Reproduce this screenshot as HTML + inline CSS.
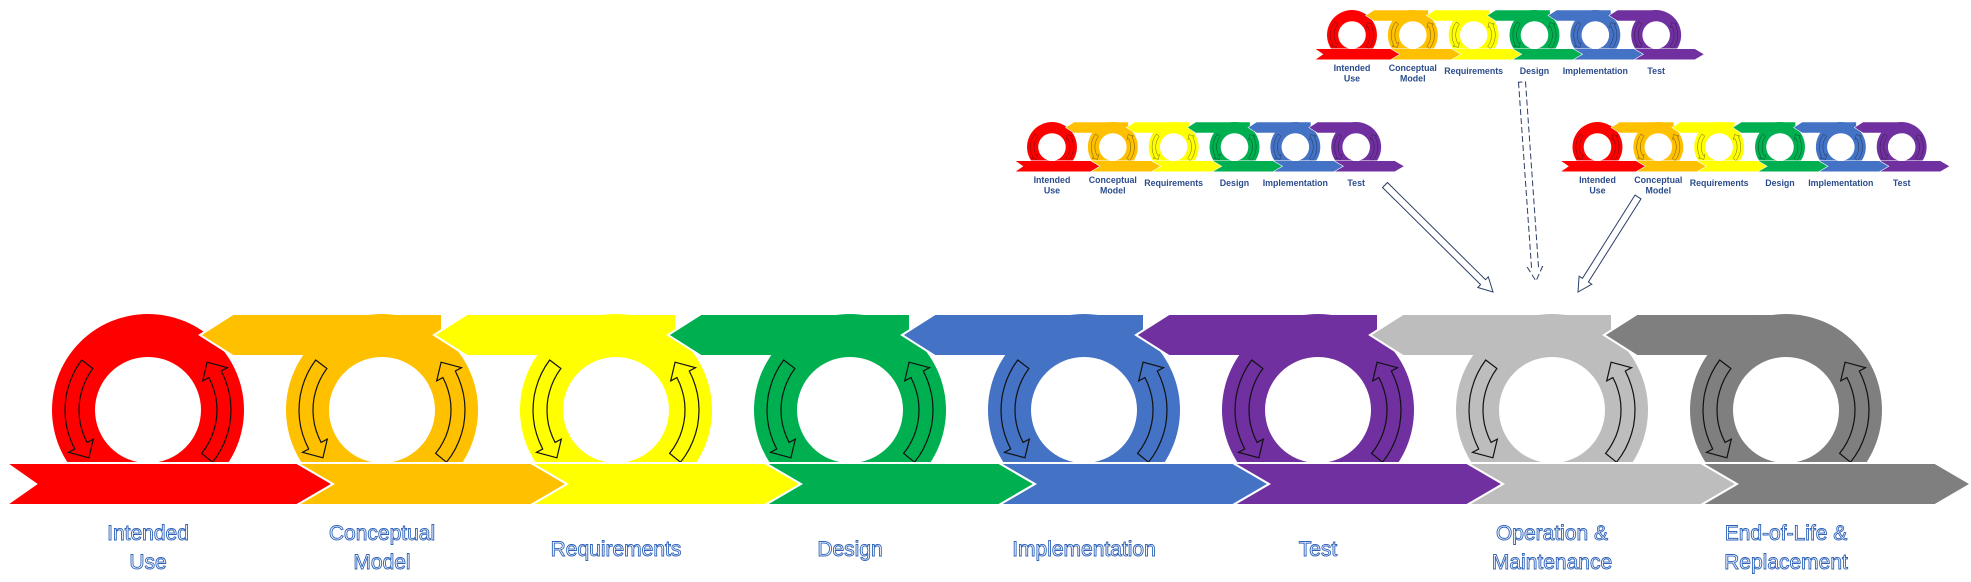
<!DOCTYPE html>
<html><head><meta charset="utf-8"><style>
html,body{margin:0;padding:0;background:#fff;width:1971px;height:582px;overflow:hidden}
svg{display:block}
.lbl{font-family:"Liberation Sans",sans-serif;font-size:21px;fill:#fff;stroke:#2f63b9;stroke-width:0.9px;text-anchor:middle}
.ml{font-family:"Liberation Sans",sans-serif;font-size:34px;font-weight:bold;fill:#2b4c8c;text-anchor:middle}
</style></head><body>
<svg id="s" width="1971" height="582" viewBox="0 0 1971 582" xmlns="http://www.w3.org/2000/svg">
<defs>
<g id="main6"></g>
<g id="mini">
<use href="#main6"/>
<text class="ml" x="148" y="548">Intended</text><text class="ml" x="148" y="588">Use</text>
<text class="ml" x="382" y="548">Conceptual</text><text class="ml" x="382" y="588">Model</text>
<text class="ml" x="616" y="560">Requirements</text>
<text class="ml" x="850" y="560">Design</text>
<text class="ml" x="1084" y="560">Implementation</text>
<text class="ml" x="1318" y="560">Test</text>
</g>
</defs>
<g id="main8"></g>
<text class="lbl" x="148" y="540">Intended</text><text class="lbl" x="148" y="569">Use</text>
<text class="lbl" x="382" y="540">Conceptual</text><text class="lbl" x="382" y="569">Model</text>
<text class="lbl" x="616" y="556">Requirements</text>
<text class="lbl" x="850" y="556">Design</text>
<text class="lbl" x="1084" y="556">Implementation</text>
<text class="lbl" x="1318" y="556">Test</text>
<text class="lbl" x="1552" y="540">Operation &amp;</text><text class="lbl" x="1552" y="569">Maintenance</text>
<text class="lbl" x="1786" y="540">End-of-Life &amp;</text><text class="lbl" x="1786" y="569">Replacement</text>
<use href="#mini" transform="translate(1013.5,40.4) scale(0.26)"/>
<use href="#mini" transform="translate(1313.5,-71.6) scale(0.26)"/>
<use href="#mini" transform="translate(1559,40.4) scale(0.26)"/>
<g id="arrows"></g>
</svg>
<script>
var NS="http://www.w3.org/2000/svg";
function el(p,t,a){var e=document.createElementNS(NS,t);for(var k in a)e.setAttribute(k,a[k]);p.appendChild(e);return e;}
var cols=["#ff0000","#ffc000","#ffff00","#00b050","#4472c4","#7030a0","#bdbdbd","#7f7f7f"];
function pt(c,r,a){a=a*Math.PI/180;return (c+r*Math.cos(a)).toFixed(1)+","+(410+r*Math.sin(a)).toFixed(1);}
function curvArrow(g,c,a1,a2,ah,col){
 var pts=[],n=12,i;
 for(i=0;i<=n;i++)pts.push(pt(c,83,a1+(a2-a1)*i/n));
 pts.push(pt(c,90,a2));pts.push(pt(c,76,ah));pts.push(pt(c,62,a2));
 for(i=n;i>=0;i--)pts.push(pt(c,69,a1+(a2-a1)*i/n));
 el(g,"polygon",{points:pts.join(" "),fill:col,stroke:"#111",'stroke-width':1.2});
}
function build(g,N){
 for(var i=0;i<N;i++){
  var c=148+234*i,col=cols[i];
  var R=(i==N-1)?c:c+60;
  if(i>0)el(g,"polygon",{points:[(c-182)+",335",(c-149)+",314",R+",314",R+",356",(c-149)+",356"].join(" "),fill:col,stroke:"#fff",'stroke-width':2});
  el(g,"path",{d:"M"+(c-96)+",410a96,96 0 1,0 192,0a96,96 0 1,0 -192,0zM"+(c-53)+",410a53,53 0 1,0 106,0a53,53 0 1,0 -106,0z",fill:col,'fill-rule':'evenodd'});
  curvArrow(g,c,217,152,141,col);
  curvArrow(g,c,39,-28,-39,col);
 }
 for(var i=0;i<N;i++){
  var c=148+234*i,col=cols[i];
  var L=i==0?[6,36]:[c-85,c-49];
  el(g,"polygon",{points:[L[0]+",463",(c+149)+",463",(c+185)+",484",(c+149)+",505",L[0]+",505",L[1]+",484"].join(" "),fill:col,stroke:"#fff",'stroke-width':2});
 }
}
build(document.getElementById("main8"),8);
build(document.getElementById("main6"),6);
function blockArrow(g,x1,y1,x2,y2,dash){
 var dx=x2-x1,dy=y2-y1,L=Math.hypot(dx,dy),ux=dx/L,uy=dy/L,nx=-uy,ny=ux,w=3.5,hw=7.5,hl=14;
 var bx=x2-ux*hl,by=y2-uy*hl;
 var P=[[x1+nx*w,y1+ny*w],[bx+nx*w,by+ny*w],[bx+nx*hw,by+ny*hw],[x2,y2],[bx-nx*hw,by-ny*hw],[bx-nx*w,by-ny*w],[x1-nx*w,y1-ny*w]];
 var a={points:P.map(function(p){return p[0].toFixed(1)+","+p[1].toFixed(1)}).join(" "),fill:"#fff",stroke:"#2b3f66",'stroke-width':1};
 if(dash)a['stroke-dasharray']="6,3";
 el(g,"polygon",a);
}
var ag=document.getElementById("arrows");
blockArrow(ag,1385,185,1493,292,false);
blockArrow(ag,1522,82,1536,281,true);
blockArrow(ag,1638,197,1578,292,false);
</script>
</body></html>
